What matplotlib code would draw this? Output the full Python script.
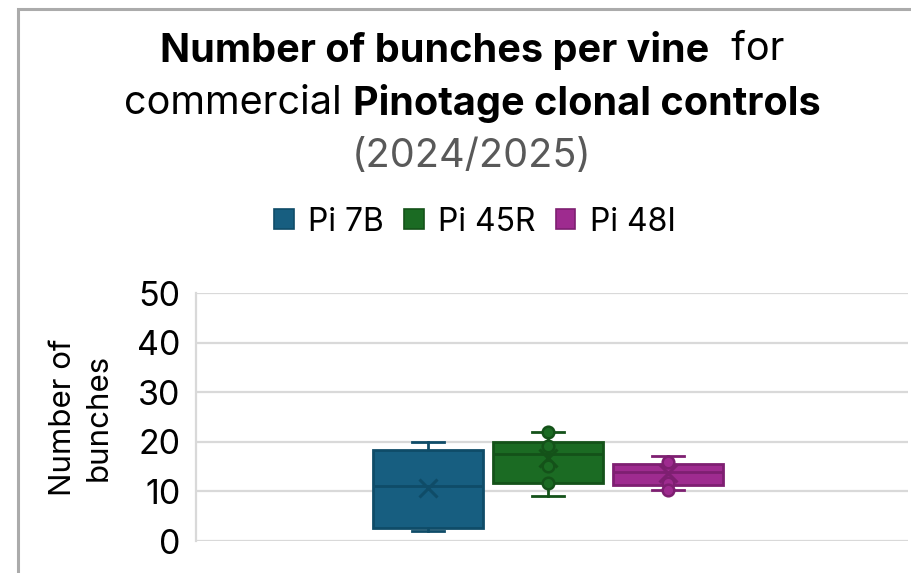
import matplotlib
matplotlib.use("Agg")
from matplotlib import pyplot as plt
from matplotlib.patches import Patch, Rectangle

# values (box stats per clone)
clones = ['Pi 7B', 'Pi 45R', 'Pi 48I']
whisker_low = [2.0, 9.0, 10.2]
quart1 = [2.7, 11.7, 11.3]
medians = [11.0, 17.5, 13.9]
quart3 = [18.4, 20.0, 15.6]
whisker_high = [20.0, 22.0, 17.1]
means = [10.7, 16.7, 13.8]
inner_points = [[], [22.0, 19.2, 15.1, 11.7], [15.9, 11.7, 10.2]]

fills = ['#175E80', '#1B6B23', '#9E2B8F']
edges = ['#0F4C68', '#145219', '#7E1F71']

FONT = 'Inter'
plt.rcParams['font.family'] = [FONT, 'DejaVu Sans']

fig = plt.figure(figsize=(9.12, 5.73), dpi=100)
W, H = 912, 573

# chart border (cropped on right and bottom)
fig.patches.append(Rectangle((18 / W, -0.1), 1.2, (1 - 9 / H) + 0.1, transform=fig.transFigure,
                             fill=False, edgecolor='#ABABAB', linewidth=2.2, clip_on=False))


def line_of_text(y, parts, size):
    # place bold / normal segments side by side, centred on the chart
    renderer = fig.canvas.get_renderer()
    texts = []
    total = 0
    for s, weight, color in parts:
        t = fig.text(0, y, s, fontsize=size, fontweight=weight, color=color, va='center')
        w = t.get_window_extent(renderer).width / fig.bbox.width
        texts.append((t, w))
        total += w
    x = 472 / W - total / 2
    for t, w in texts:
        t.set_x(x)
        x += w


line_of_text(1 - 50 / H, [('Number of bunches per vine', 'bold', 'black'), ('  for', 'normal', 'black')], 28.5)
line_of_text(1 - 103 / H, [('commercial ', 'normal', 'black'), ('Pinotage clonal controls', 'bold', 'black')], 28.5)
line_of_text(1 - 156 / H, [('(2024/2025)', 'normal', '#595959')], 28.5)

ax = fig.add_axes([196 / W, 1 - 541 / H, 712 / W, 248 / H])

stats = []
for i in range(len(clones)):
    stats.append({'whislo': whisker_low[i], 'q1': quart1[i], 'med': medians[i],
                  'q3': quart3[i], 'whishi': whisker_high[i], 'mean': means[i], 'fliers': []})

positions = [1, 2, 3]
for i in range(len(clones)):
    ax.bxp([stats[i]], positions=[positions[i]], widths=0.92, capwidths=0.27,
           patch_artist=True, showmeans=True, meanline=False,
           boxprops=dict(facecolor=fills[i], edgecolor=edges[i], linewidth=2),
           medianprops=dict(color=edges[i], linewidth=2),
           whiskerprops=dict(color=edges[i], linewidth=2),
           capprops=dict(color=edges[i], linewidth=2),
           meanprops=dict(marker='x', markeredgecolor=edges[i], markersize=13, markeredgewidth=2.2),
           zorder=3)
    if inner_points[i]:
        ax.scatter([positions[i]] * len(inner_points[i]), inner_points[i], s=70,
                   color=fills[i], edgecolors=edges[i], linewidths=1.8, zorder=4)

ax.set_xlim(-0.933, 5.0)
ax.set_ylim(0, 50)
ax.set_yticks([0, 10, 20, 30, 40, 50])
ax.set_xticks([])
ax.grid(axis='y', color='#D9D9D9', linewidth=1.6, zorder=0)
ax.set_axisbelow(True)
for side in ['top', 'right', 'bottom']:
    ax.spines[side].set_visible(False)
ax.spines['left'].set_color('#D9D9D9')
ax.spines['left'].set_linewidth(1.6)
ax.tick_params(axis='y', length=0, labelsize=24.5, pad=11)
ax.set_ylabel('Number of\nbunches', fontsize=22.5, labelpad=18, linespacing=1.35)

handles = [Patch(facecolor=fills[i], edgecolor=edges[i], linewidth=1.2) for i in range(len(clones))]
fig.legend(handles, clones, loc='center', bbox_to_anchor=(475 / W, 1 - 222 / H), ncol=3,
           frameon=False, fontsize=23, handlelength=0.6, handleheight=0.6,
           handletextpad=0.45, columnspacing=0.65)

fig.savefig('out.png', dpi=100)
